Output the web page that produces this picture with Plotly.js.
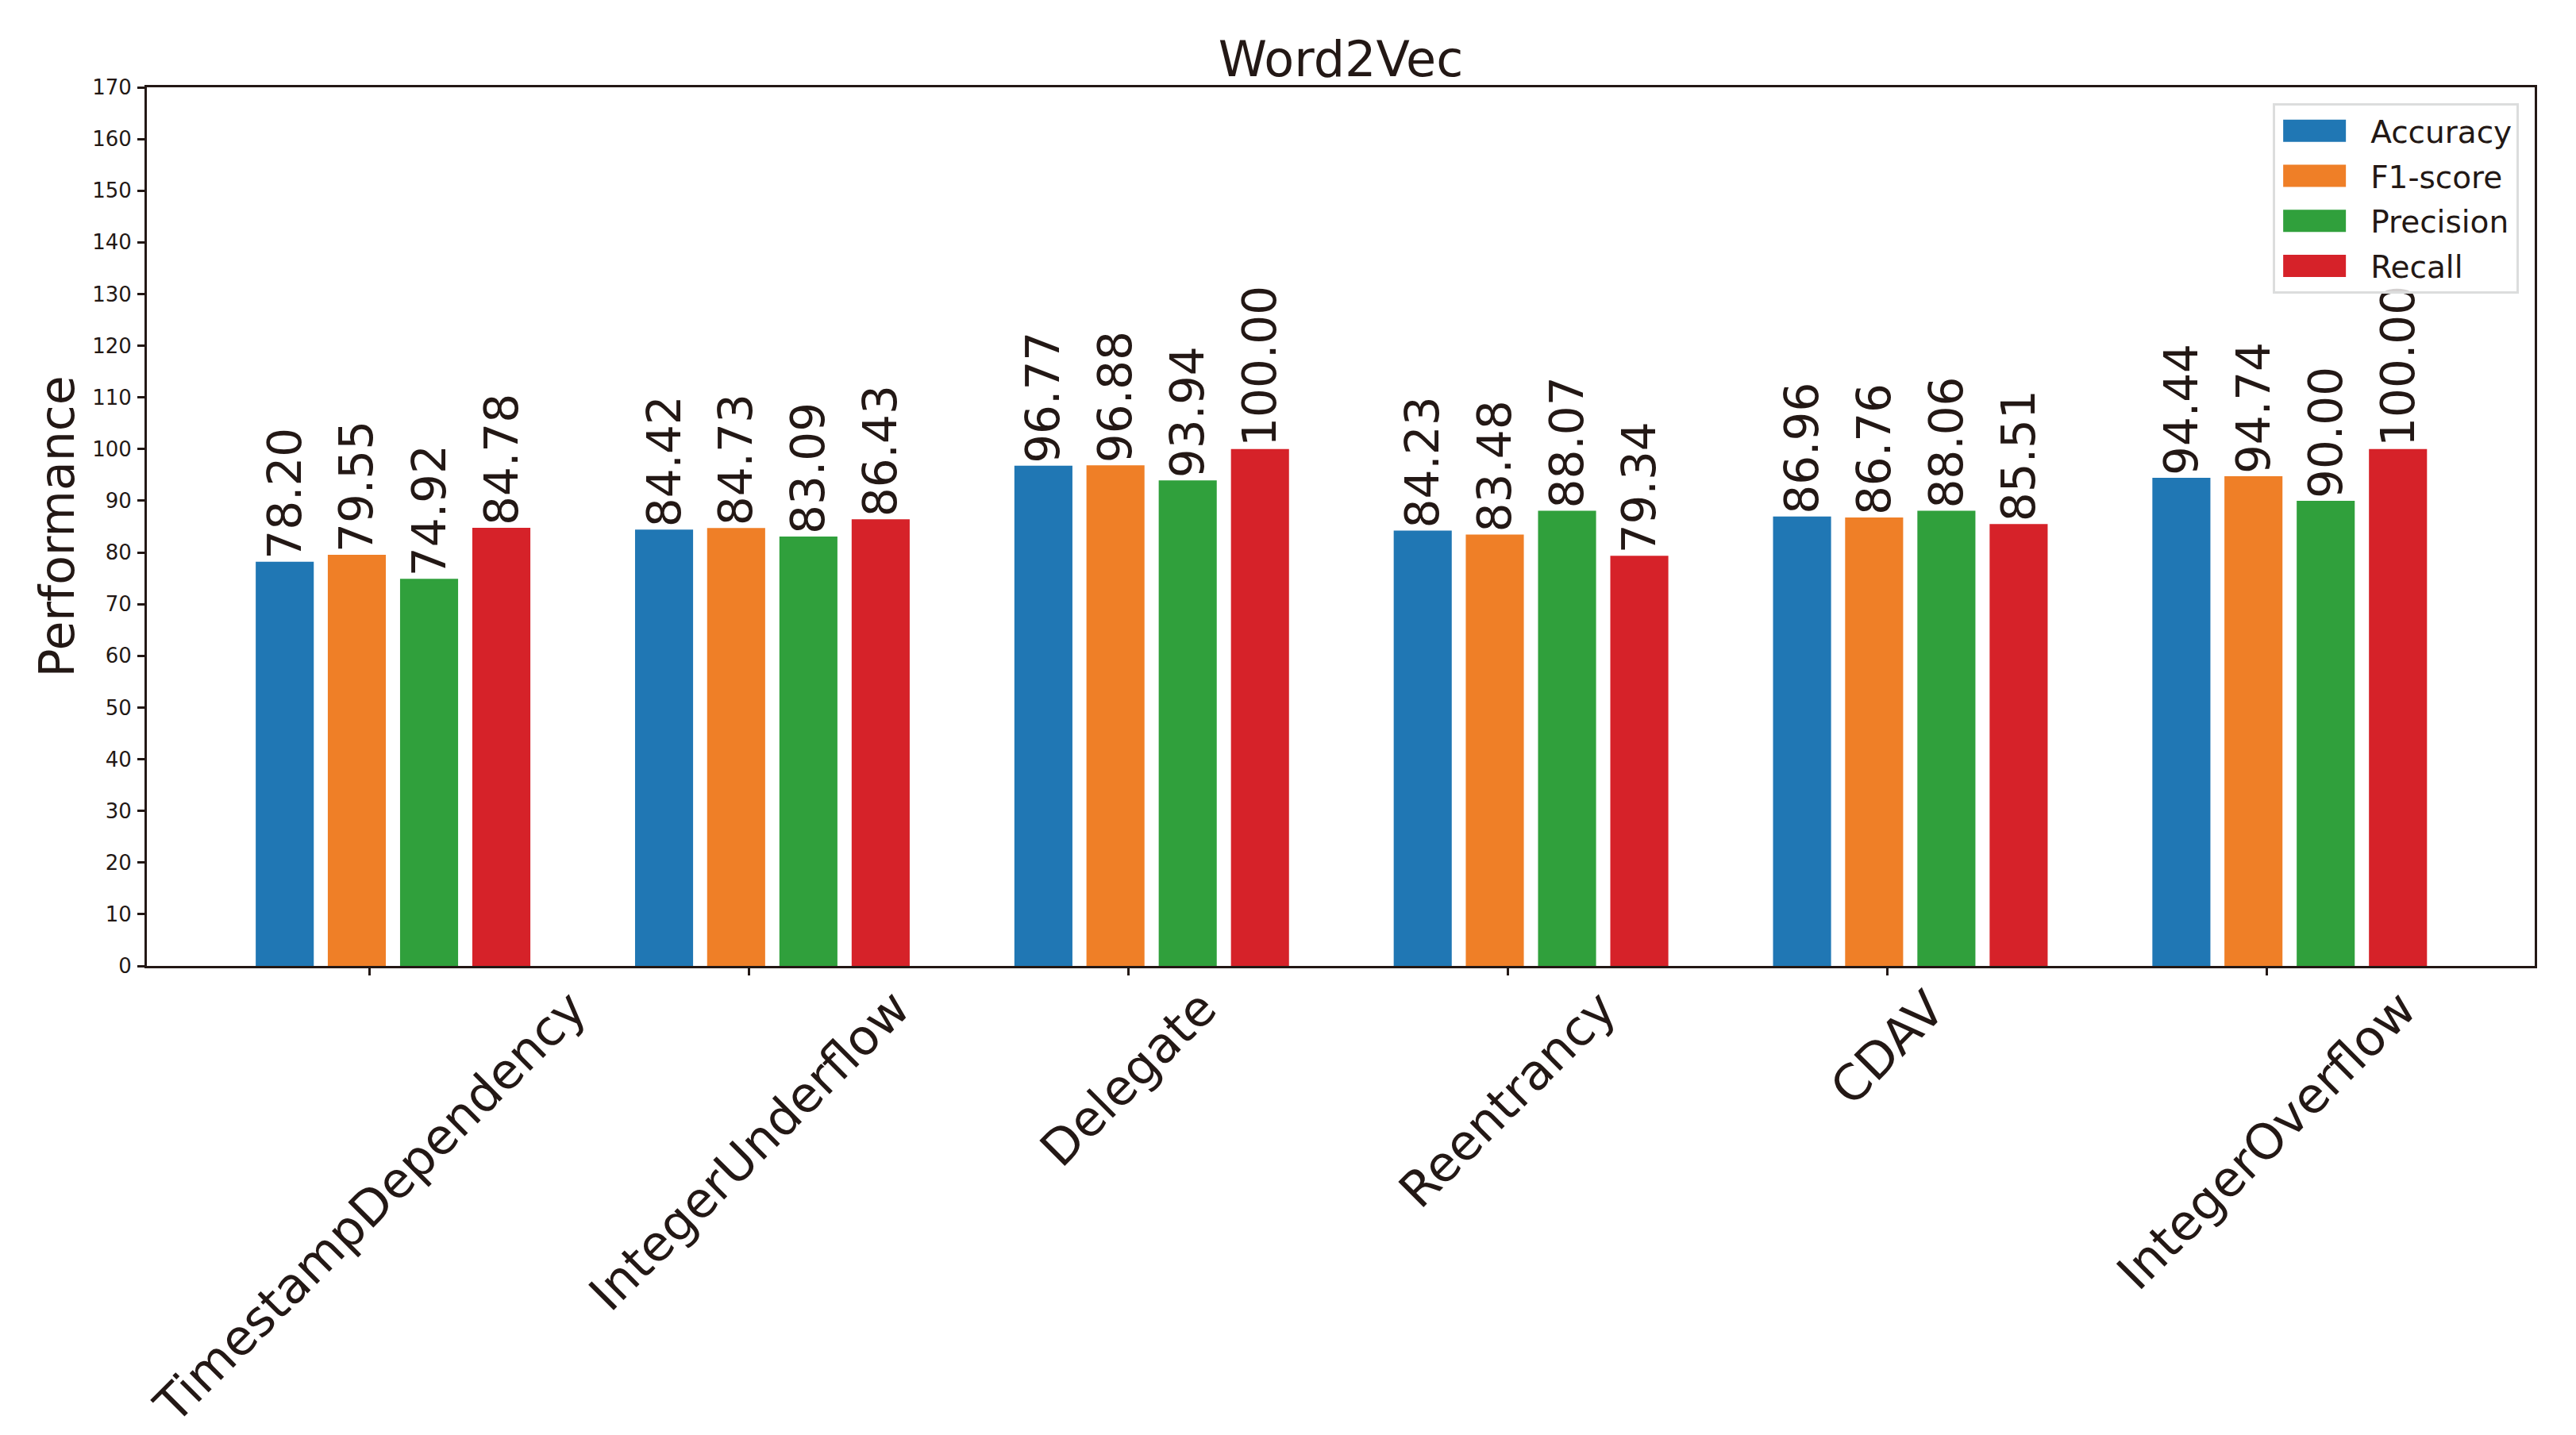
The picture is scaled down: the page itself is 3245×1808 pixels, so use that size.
<!DOCTYPE html>
<html>
<head>
<meta charset="utf-8">
<script src="https://cdn.plot.ly/plotly-3.0.1.min.js"></script>
<style>html,body{margin:0;padding:0;background:#fff;}</style>
</head>
<body>
<div id="chart" style="width:3245px;height:1808px;"></div>
<script>
// ---- data ----
const categories = ['TimestampDependency', 'IntegerUnderflow', 'Delegate', 'Reentrancy', 'CDAV', 'IntegerOverflow'];
const seriesNames = ['Accuracy', 'F1-score', 'Precision', 'Recall'];
const accuracy  = [78.20, 84.42, 96.77, 84.23, 86.96, 94.44];
const f1score   = [79.55, 84.73, 96.88, 83.48, 86.76, 94.74];
const precision = [74.92, 83.09, 93.94, 88.07, 88.06, 90.00];
const recall    = [84.78, 86.43, 100.00, 79.34, 85.51, 100.00];
const yTickVals = [0, 10, 20, 30, 40, 50, 60, 70, 80, 90, 100, 110, 120, 130, 140, 150, 160, 170];

// ---- style ----
const FONT = 'DejaVu Sans, sans-serif';
const INK = '#231815';
const colors = ['#2077b4', '#ef7f27', '#30a03c', '#d62229'];
const barWidth = 0.153;
const barOffsets = [-0.301, -0.111, 0.0795, 0.270];

const series = [accuracy, f1score, precision, recall];
const positions = categories.map((_, i) => i);

const traces = series.map((vals, k) => ({
  type: 'bar',
  name: seriesNames[k],
  x: positions,
  y: vals,
  width: barWidth,
  offset: barOffsets[k],
  marker: {color: colors[k], line: {width: 0}},
  texttemplate: '%{y:.2f}',
  textposition: 'outside',
  textangle: -90,
  constraintext: 'none',
  cliponaxis: false,
  textfont: {family: FONT, size: 58, color: INK},
  legendgroup: 'g' + k,
  hoverinfo: 'skip'
}));

const annotations = categories.map((c, i) => ({
  text: c,
  x: positions[i],
  y: 0,
  xref: 'x',
  yref: 'y',
  showarrow: false,
  textangle: -45,
  xanchor: 'center',
  yanchor: 'top',
  yshift: -14,
  font: {family: FONT, size: 62, color: INK}
}));

const layout = {
  width: 3245,
  height: 1808,
  paper_bgcolor: '#ffffff',
  plot_bgcolor: '#ffffff',
  margin: {l: 185, r: 52, t: 110, b: 591, pad: 0},
  barmode: 'overlay',
  font: {family: FONT, color: INK},
  title: {
    text: 'Word2Vec',
    font: {family: FONT, size: 62, color: INK},
    x: 0.5, xref: 'paper', xanchor: 'center',
    y: 1, yref: 'paper', yanchor: 'bottom',
    pad: {b: 14}
  },
  xaxis: {
    range: [-0.588, 5.707],
    tickvals: positions,
    showticklabels: false,
    ticks: 'outside',
    ticklen: 9,
    tickwidth: 3,
    tickcolor: INK,
    showline: true,
    linewidth: 3,
    linecolor: INK,
    mirror: true,
    showgrid: false,
    zeroline: false,
    fixedrange: true
  },
  yaxis: {
    range: [0, 170],
    tickvals: yTickVals,
    ticks: 'outside',
    ticklen: 9,
    tickwidth: 3,
    tickcolor: INK,
    ticklabelstandoff: 2,
    tickfont: {family: FONT, size: 26, color: INK},
    showline: true,
    linewidth: 3,
    linecolor: INK,
    mirror: true,
    showgrid: false,
    zeroline: false,
    title: {text: 'Performance', font: {family: FONT, size: 60, color: INK}, standoff: 4},
    fixedrange: true
  },
  legend: {
    x: 0.9934, xanchor: 'right',
    y: 0.982, yanchor: 'top',
    bgcolor: 'rgba(255,255,255,0.8)',
    bordercolor: '#dcdddd',
    borderwidth: 3,
    font: {family: FONT, size: 39, color: INK},
    itemwidth: 110,
    tracegroupgap: 3,
    traceorder: 'grouped'
  },
  annotations: annotations,
  showlegend: true
};

Plotly.newPlot('chart', traces, layout, {staticPlot: true, displayModeBar: false}).then(gd => {
  // widen legend swatches like the matplotlib patches, placed just before the label text
  gd.querySelectorAll('.legend .traces').forEach(item => {
    const txt = item.querySelector('text.legendtext');
    const tx = txt ? parseFloat(txt.getAttribute('x')) || 0 : 110;
    item.querySelectorAll('.legendpoints path').forEach(p => {
      p.setAttribute('d', 'M39.5,14H-39.5V-14H39.5Z');
      p.setAttribute('transform', 'translate(' + (tx - 31 - 39.5) + ',0)');
    });
  });
});
</script>
</body>
</html>
